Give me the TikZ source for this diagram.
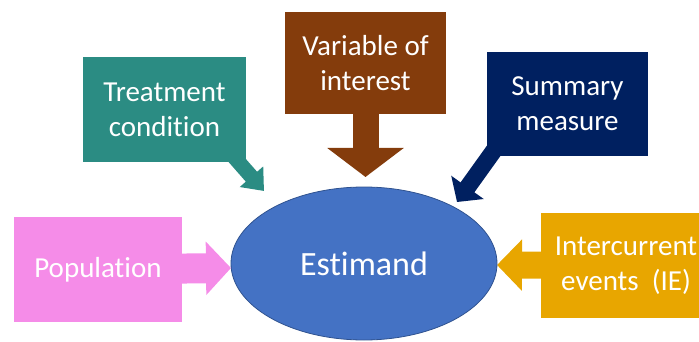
\documentclass[tikz,border=0pt]{standalone}
\usepackage{fontspec}
\setmainfont{Carlito}[Ligatures=NoCommon]
\usetikzlibrary{arrows.meta,shapes.geometric,backgrounds}
\definecolor{tealc}{RGB}{43,140,131}
\definecolor{brownc}{RGB}{132,60,12}
\definecolor{navyc}{RGB}{0,32,96}
\definecolor{pinkc}{RGB}{245,140,232}
\definecolor{bluec}{RGB}{68,114,196}
\definecolor{blueb}{RGB}{47,82,143}
\definecolor{goldc}{RGB}{232,166,0}
\tikzset{
  boxnode/.style={rectangle, inner sep=0pt, text=white, align=center,
    font=\fontsize{29}{35}\selectfont},
  fatarrow/.style={line join=miter, line cap=butt}
}
\begin{document}
\begin{tikzpicture}[x=1pt,y=-1pt]
\useasboundingbox (0,0) rectangle (699,342);
\clip (0,0) rectangle (699,342);
% boxes
\node[boxnode, fill=tealc, minimum width=163pt, minimum height=105pt] (tc) at (164.5,109.5) {\raisebox{-2pt}{\parbox{160pt}{\centering Treatment\\condition}}};
\node[boxnode, fill=brownc, minimum width=161pt, minimum height=102pt] (vi) at (365.5,63) {\raisebox{-1.5pt}{\parbox{160pt}{\centering Variable of\\interest}}};
\node[boxnode, fill=navyc, minimum width=161pt, minimum height=104pt] (sm) at (567.5,104) {\raisebox{-1.5pt}{\parbox{160pt}{\centering Summary\\measure}}};
\node[boxnode, fill=pinkc, minimum width=168pt, minimum height=105pt] (pop) at (98,269.5) {\raisebox{-2.5pt}{Population}};
\node[boxnode, fill=goldc, minimum width=160pt, minimum height=105pt] (ie) at (626,265.5) {\raisebox{-2.5pt}{\parbox{170pt}{\centering Intercurrent\\events\hspace{0.45em}(IE)}}};
\node[ellipse, fill=bluec, draw=blueb, line width=0.8pt, inner sep=0pt, minimum width=266pt, minimum height=153pt,
  text=white, font=\fontsize{34}{40}\selectfont] (est) at (364,263.5) {\raisebox{-3.5pt}{Estimand}};
% arrow tips
\coordinate (poptip) at (231,268);
\coordinate (vitip) at (365.5,177);
\coordinate (ietip) at (497,265);
\coordinate (tcbend) at (228,150);
\coordinate (tctip) at (264,191);
\coordinate (smbend) at (505,135);
\coordinate (smtip) at (457,202);
\begin{scope}[on background layer]
\draw[fatarrow, pinkc, line width=30pt, -{Triangle[width=52pt,length=25pt]}] (pop.center) -- (poptip);
\draw[fatarrow, brownc, line width=26pt, -{Triangle[width=75pt,length=29pt]}] (vi.center) -- (vitip);
\draw[fatarrow, goldc, line width=27pt, -{Triangle[width=50pt,length=25pt]}] (ie.center) -- (ietip);
\draw[fatarrow, tealc, line width=15pt, -{Triangle[width=30pt,length=19pt]}] (tc.center) -- (tcbend) -- (tctip);
\draw[fatarrow, navyc, line width=17pt, -{Triangle[width=39pt,length=18pt]}] (sm.center) -- (smbend) -- (smtip);
\end{scope}
\end{tikzpicture}
\end{document}
